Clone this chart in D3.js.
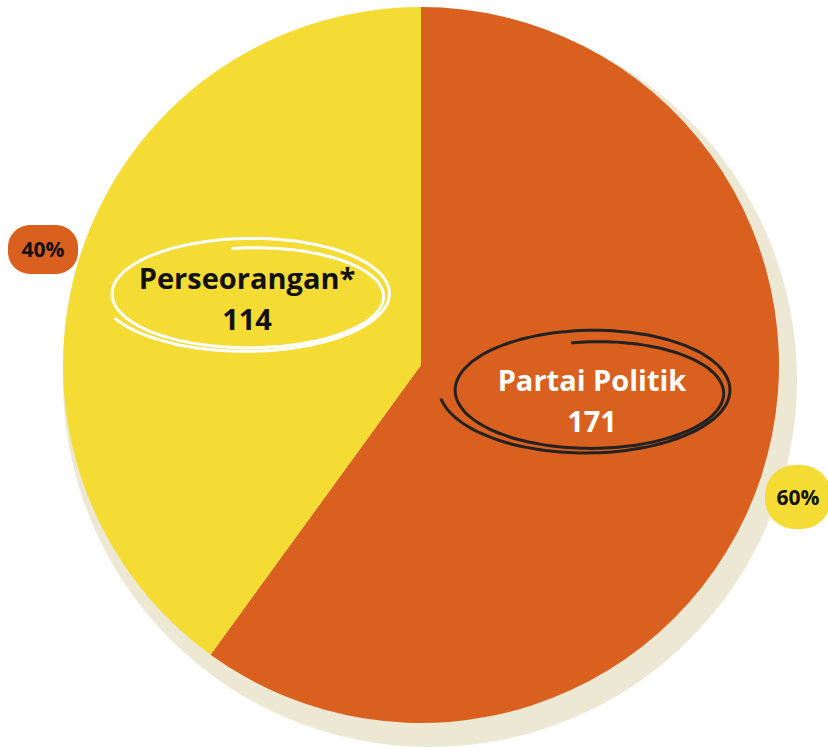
<!DOCTYPE html>
<html>
<head>
<meta charset="utf-8">
<script src="https://cdn.jsdelivr.net/npm/d3@7"></script>
<style>
  body { margin: 0; background: #fff; }
  text { font-family: "Open Sans", "Noto Sans", sans-serif; font-weight: 700; }
</style>
</head>
<body>
<script>
// data
var categories = ["Partai Politik", "Perseorangan*"];
var values = [171, 114];
var colors = ["#D9601F", "#F5DC35"];
var badgeColors = ["#F5DC35", "#D9601F"];

var width = 828,
    height = 748;

var cx = 421, cy = 365, r = 358;

var svg = d3.select("body").append("svg")
    .attr("width", width)
    .attr("height", height)
    .style("display", "block");

// shadow disc
svg.append("circle")
    .attr("cx", cx + 9)
    .attr("cy", cy + 15)
    .attr("r", r + 9)
    .attr("fill", "#EDE8D3");

var total = d3.sum(values);
var pie = d3.pie().sort(null).value(function(d) { return d; });
var arcs = pie(values);

var arc = d3.arc().innerRadius(0).outerRadius(r);

var g = svg.append("g").attr("transform", "translate(" + cx + "," + cy + ")");

g.selectAll("path")
    .data(arcs)
    .enter().append("path")
    .attr("fill", function(d, i) { return colors[i]; })
    .attr("d", arc);

// hand drawn loops round the labels
var loop = d3.line().curve(d3.curveBasis);
function scribble(s, e, a0, turns) {
  var pts = [];
  var n = 160;
  for (var k = 0; k <= n; k++) {
    var t = k / n;
    var a = a0 + t * turns * 2 * Math.PI;
    var x = s.x + (e.x - s.x) * t,
        y = s.y + (e.y - s.y) * t,
        rx = s.rx + (e.rx - s.rx) * t,
        ry = s.ry + (e.ry - s.ry) * t;
    pts.push([x + Math.cos(a) * rx, y + Math.sin(a) * ry]);
  }
  return loop(pts);
}

var loops = [
  {s: {x: 595, y: 394, rx: 127, ry: 52}, e: {x: 586, y: 388, rx: 147, ry: 66}, a0: -1.75, turns: 1.75, stroke: "#222"},
  {s: {x: 252, y: 297, rx: 130, ry: 49}, e: {x: 246, y: 292, rx: 146, ry: 60}, a0: -1.72, turns: 1.7, stroke: "#fff"}
];

loops.forEach(function(l) {
  svg.append("path")
      .attr("d", scribble(l.s, l.e, l.a0, l.turns))
      .attr("fill", "none")
      .attr("stroke", l.stroke)
      .attr("stroke-width", 3)
      .attr("stroke-linecap", "round");
});

// labels
var labelX = [592, 247];
var labelY = [391, 289];
var labelFill = ["#fff", "#111"];

categories.forEach(function(c, i) {
  var t = svg.append("text")
      .attr("x", labelX[i])
      .attr("y", labelY[i])
      .attr("text-anchor", "middle")
      .attr("fill", labelFill[i])
      .style("font-size", "29px");
  t.append("tspan").attr("x", labelX[i]).text(c);
  t.append("tspan").attr("x", labelX[i]).attr("dy", 41).text(values[i]);
});

// percentage badges
var pct = d3.format(".0%");
var badges = [
  {x: 765, y: 465, w: 66, h: 64, rr: 30, tx: 798},
  {x: 8, y: 225, w: 70, h: 49, rr: 22, tx: 43}
];

badges.forEach(function(b, i) {
  svg.append("rect")
      .attr("x", b.x).attr("y", b.y)
      .attr("width", b.w).attr("height", b.h)
      .attr("rx", b.rr).attr("ry", b.rr)
      .attr("fill", badgeColors[i]);
  svg.append("text")
      .attr("x", b.tx)
      .attr("y", b.y + b.h / 2)
      .attr("dy", "0.36em")
      .attr("text-anchor", "middle")
      .attr("fill", "#111")
      .style("font-size", "21px")
      .text(pct(values[i] / total));
});
</script>
</body>
</html>
